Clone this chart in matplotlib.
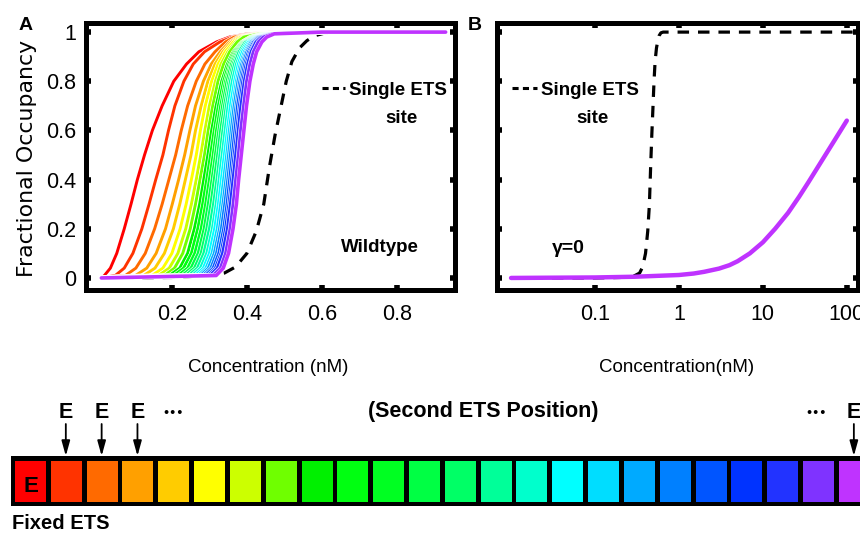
import matplotlib
matplotlib.use("Agg")
import matplotlib.pyplot as plt
import matplotlib.patches as mpatches
import matplotlib.patheffects as pe
from matplotlib.lines import Line2D

# ── FONTS ──────────────────────────────────────────────────────────────────────
SANS = ["Liberation Sans", "DejaVu Sans"]
WIDE = ["DejaVu Sans"]

# ── DATA ───────────────────────────────────────────────────────────────────────
# occupancy levels at which each curve's concentration was read off
LEVELS = [0.0, 0.01, 0.04, 0.1, 0.2, 0.3, 0.4, 0.5, 0.6, 0.7, 0.8,
          0.87, 0.92, 0.96, 0.98, 0.993, 1.0, 1.0]

# concentration (nM) at each LEVEL, one row per ETS position (wildtype)
CURVE_X = [
    [0.012, .020, .036, .053, .073, .091, .108, .127, .148, .174, .205, .239, .272, .319, .354, .402, .47, .93],
    [0.012, .049, .073, .096, .120, .139, .157, .176, .191, .208, .232, .257, .287, .328, .362, .410, .48, .93],
    [0.012, .076, .104, .129, .154, .174, .192, .210, .225, .242, .265, .288, .315, .343, .366, .415, .49, .93],
    [0.012, .103, .133, .158, .183, .201, .218, .234, .248, .263, .284, .305, .329, .354, .376, .420, .495, .93],
    [0.012, .125, .155, .180, .204, .221, .236, .251, .263, .278, .296, .315, .336, .359, .380, .424, .50, .93],
    [0.012, .147, .176, .200, .222, .238, .252, .265, .276, .289, .306, .323, .342, .364, .384, .428, .505, .93],
    [0.012, .164, .193, .216, .237, .252, .265, .277, .288, .300, .316, .331, .349, .370, .389, .432, .51, .93],
    [0.012, .180, .207, .229, .249, .263, .275, .287, .297, .309, .323, .338, .354, .374, .392, .436, .515, .93],
    [0.012, .193, .221, .242, .260, .274, .285, .296, .306, .318, .333, .348, .364, .387, .409, .440, .52, .93],
    [0.012, .205, .231, .252, .269, .282, .293, .303, .313, .324, .338, .352, .367, .388, .411, .442, .525, .93],
    [0.012, .216, .242, .261, .278, .290, .300, .310, .319, .330, .343, .356, .370, .390, .413, .444, .53, .93],
    [0.012, .227, .251, .270, .286, .297, .307, .316, .325, .335, .347, .359, .373, .392, .415, .446, .535, .93],
    [0.012, .236, .260, .278, .293, .304, .313, .322, .330, .340, .352, .363, .376, .394, .417, .448, .54, .93],
    [0.012, .245, .268, .285, .300, .311, .320, .328, .336, .345, .356, .367, .379, .396, .419, .450, .545, .93],
    [0.012, .254, .276, .293, .308, .318, .326, .334, .342, .350, .361, .372, .384, .400, .421, .452, .55, .93],
    [0.012, .262, .284, .300, .314, .324, .332, .340, .348, .356, .367, .377, .388, .404, .423, .454, .555, .93],
    [0.012, .270, .291, .307, .321, .330, .338, .346, .353, .362, .372, .382, .393, .408, .425, .456, .56, .93],
    [0.012, .276, .297, .313, .327, .336, .344, .351, .358, .366, .376, .386, .397, .411, .427, .458, .565, .93],
    [0.012, .283, .304, .319, .332, .341, .349, .356, .363, .371, .381, .390, .400, .415, .429, .460, .57, .93],
    [0.012, .289, .310, .325, .338, .347, .354, .361, .368, .375, .385, .394, .404, .418, .432, .462, .575, .93],
    [0.012, .296, .316, .331, .343, .352, .359, .366, .373, .380, .389, .398, .408, .422, .435, .464, .58, .93],
    [0.012, .301, .321, .335, .348, .356, .363, .370, .377, .384, .393, .402, .411, .424, .438, .466, .585, .93],
    [0.012, .309, .329, .343, .355, .363, .370, .377, .383, .391, .399, .408, .417, .430, .443, .468, .59, .93],
    [0.012, .318, .337, .351, .363, .372, .378, .385, .392, .399, .408, .417, .426, .440, .453, .473, .60, .93],
]

SITE_COLORS = [
    "#ff0000", "#ff3300", "#ff6a00", "#ffa000", "#ffcc00", "#ffff00",
    "#ccff00", "#6fff00", "#00f000", "#00ff11", "#00ff22", "#00ff44",
    "#00ff66", "#00ff99", "#00ffcc", "#00ffff", "#00ddff", "#00aaff",
    "#0080ff", "#0055ff", "#0033ff", "#2233ff", "#7f33ff", "#bf33ff",
]

# single ETS site reference (panel A, linear axis)
SINGLE_X = [0.012, 0.20, 0.30, 0.34, 0.37, 0.40, 0.425, 0.445, 0.46, 0.475,
            0.49, 0.505, 0.52, 0.54, 0.56, 0.58, 0.61, 0.65, 0.93]
SINGLE_Y = [0.0, 0.002, 0.01, 0.02, 0.045, 0.10, 0.19, 0.30, 0.45, 0.58,
            0.69, 0.80, 0.88, 0.935, 0.965, 0.985, 0.997, 1.0, 1.0]

# panel B, log axis
SINGLE_B_X = [0.01, 0.10, 0.20, 0.30, 0.34, 0.37, 0.40, 0.425, 0.445, 0.46, 0.475,
              0.49, 0.505, 0.52, 0.54, 0.56, 0.58, 0.61, 0.65, 0.75, 130]
SINGLE_B_Y = [0.0, 0.0, 0.002, 0.01, 0.02, 0.045, 0.10, 0.19, 0.30, 0.45, 0.58,
              0.69, 0.80, 0.88, 0.935, 0.965, 0.985, 0.997, 1.0, 1.0, 1.0]

GAMMA0_X = [0.01, 0.03, 0.1, 0.3, 1, 1.5, 2, 3, 4, 5, 7, 10, 14, 20, 27, 35, 50, 70, 100]
GAMMA0_Y = [0.0, 0.001, 0.002, 0.005, 0.012, 0.018, 0.025, 0.038, 0.052, 0.068,
            0.1, 0.145, 0.2, 0.265, 0.33, 0.39, 0.475, 0.555, 0.64]

A_XTICKS = [0.2, 0.4, 0.6, 0.8]
A_YTICKS = [0, 0.2, 0.4, 0.6, 0.8, 1]
A_YLABELS = ["0", "0.2", "0.4", "0.6", "0.8", "1"]
B_XTICKS = [0.1, 1, 10, 100]
B_XLABELS = ["0.1", "1", "10", "100"]

ARROW_SITES = [1, 2, 3, 23]   # boxes marked with an E arrow

# ── FIGURE ─────────────────────────────────────────────────────────────────────
W, H = 860, 534
fig = plt.figure(figsize=(W / 100, H / 100), dpi=100)
fig.patch.set_facecolor("white")


def px_axes(l, t, r, b):
    return fig.add_axes([l / W, 1 - b / H, (r - l) / W, (b - t) / H])


def style_box(ax):
    for s in ax.spines.values():
        s.set_linewidth(3.6)
        s.set_color("black")
    ax.tick_params(which="both", direction="in", length=3.5, width=4,
                   top=True, right=True, color="black")
    ax.tick_params(which="minor", length=0)
    ax.tick_params(axis="x", pad=10, labelsize=15.5)
    ax.tick_params(axis="y", pad=7, labelsize=15.5)
    for lab in ax.get_xticklabels() + ax.get_yticklabels():
        lab.set_family(SANS)


# ── PANEL A ────────────────────────────────────────────────────────────────────
axA = px_axes(86, 23, 455, 290)
axA.plot(SINGLE_X, SINGLE_Y, color="black", lw=2.3, dashes=(3.6, 2.8),
         dash_capstyle="butt", zorder=2)
for i, (xs, c) in enumerate(zip(CURVE_X, SITE_COLORS)):
    last = i == len(CURVE_X) - 1
    axA.plot(xs, LEVELS, color=c, lw=2.6 if last else 2.1, zorder=3 + i,
             solid_capstyle="round", solid_joinstyle="round",
             path_effects=[pe.withStroke(linewidth=3.0, foreground="white")])
axA.set_xlim(-0.029, 0.955)
axA.set_ylim(-0.049, 1.037)
axA.set_xticks(A_XTICKS)
axA.set_xticklabels([f"{v:g}" for v in A_XTICKS])
axA.set_yticks(A_YTICKS)
axA.set_yticklabels(A_YLABELS)
style_box(axA)

# ── PANEL B ────────────────────────────────────────────────────────────────────
axB = px_axes(497, 23, 858, 290)
axB.set_xscale("log")
axB.plot(SINGLE_B_X, SINGLE_B_Y, color="black", lw=2.3, dashes=(3.6, 2.8),
         dash_capstyle="butt", zorder=2)
axB.plot(GAMMA0_X, GAMMA0_Y, color=SITE_COLORS[-1], lw=3.2, zorder=3,
         solid_capstyle="round", solid_joinstyle="round")
axB.set_xlim(0.0068, 136)
axB.set_ylim(-0.049, 1.037)
axB.set_xticks(B_XTICKS)
axB.set_xticklabels(B_XLABELS)
axB.set_yticks(A_YTICKS)
axB.set_yticklabels([])
style_box(axB)

# ── OVERLAY (labels + site diagram) ───────────────────────────────────────────
ov = fig.add_axes([0, 0, 1, 1], zorder=20)
ov.set_xlim(0, W)
ov.set_ylim(H, 0)
ov.axis("off")
ov.patch.set_alpha(0)

bold = dict(family=SANS, fontweight="bold", color="black")

ov.text(26, 30, "A", fontsize=14, ha="center", va="baseline", **bold)
ov.text(475, 30, "B", fontsize=14, ha="center", va="baseline", **bold)

ov.text(27, 158, "Fractional Occupancy", rotation=90, ha="center", va="center",
        fontsize=15.8, family=WIDE)
ov.text(268, 367, "Concentration (nM)", ha="center", va="center",
        fontsize=13.5, family=SANS)
ov.text(677, 367, "Concentration(nM)", ha="center", va="center",
        fontsize=13.5, family=SANS)

# in-panel legends / notes
for x0, x1, tx, sx in [(322, 345, 349, 402), (512, 537, 541, 593)]:
    ov.add_line(Line2D([x0, x1], [88, 88], color="black", lw=2.2,
                       dashes=(2.0, 1.4), dash_capstyle="butt"))
    ov.text(tx, 95, "Single ETS", fontsize=13.5, ha="left", va="baseline", **bold)
    ov.text(sx, 123, "site", fontsize=13.5, ha="center", va="baseline", **bold)
ov.text(380, 252, "Wildtype", fontsize=13.5, ha="center", va="baseline", **bold)
ov.text(568, 253, "γ=0", fontsize=14, ha="center", va="baseline", **bold)

# site diagram
pitch, bw, x0 = 35.82, 31.0, 15.0
ov.add_patch(mpatches.Rectangle((10.5, 456), 870, 50, facecolor="black",
                                edgecolor="none"))
for i, c in enumerate(SITE_COLORS):
    ov.add_patch(mpatches.Rectangle((x0 + i * pitch, 461), bw, 41,
                                    facecolor=c, edgecolor="none"))
ov.text(x0 + bw / 2, 492, "E", fontsize=16, ha="center", va="baseline", **bold)

for i in ARROW_SITES:
    cx = x0 + i * pitch + bw / 2 - 0.5
    ov.text(cx, 418, "E", fontsize=15.5, ha="center", va="baseline", **bold)
    ov.add_patch(mpatches.FancyArrowPatch(
        (cx, 424), (cx, 456), arrowstyle="-|>,head_length=0.9,head_width=0.25",
        mutation_scale=10, lw=1.3, color="black", shrinkA=0, shrinkB=0))

ov.text(173, 413, "•••", fontsize=8, ha="center", va="center",
        family=WIDE, fontweight="bold")
ov.text(816, 413, "•••", fontsize=8, ha="center", va="center",
        family=WIDE, fontweight="bold")
ov.text(483, 417, "(Second ETS Position)", fontsize=15.5, ha="center",
        va="baseline", **bold)
ov.text(12, 529, "Fixed ETS", fontsize=14.5, ha="left", va="baseline", **bold)

fig.savefig("out.png", dpi=100, facecolor="white")
